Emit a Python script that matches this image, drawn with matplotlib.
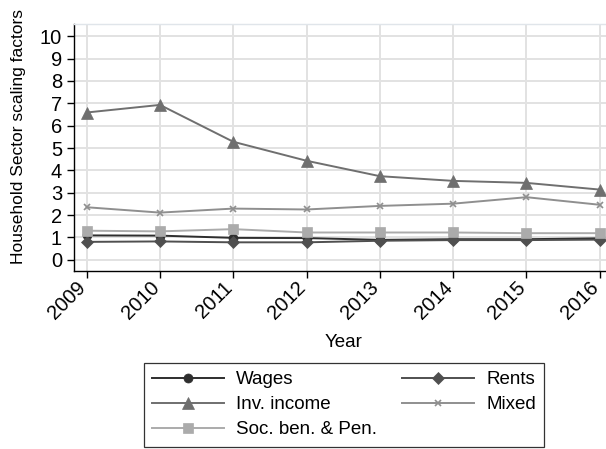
import matplotlib
matplotlib.use("Agg")
import matplotlib.pyplot as plt

plt.rcParams['font.family'] = ['Liberation Sans', 'DejaVu Sans']

years = [2009, 2010, 2011, 2012, 2013, 2014, 2015, 2016]
wages = [1.09, 1.08, 0.98, 0.97, 0.89, 0.92, 0.92, 0.96]
rents = [0.80, 0.82, 0.78, 0.78, 0.85, 0.88, 0.88, 0.90]
inv_income = [6.59, 6.93, 5.28, 4.43, 3.74, 3.53, 3.44, 3.14]
mixed = [2.35, 2.11, 2.29, 2.25, 2.41, 2.51, 2.80, 2.46]
soc_ben = [1.30, 1.27, 1.37, 1.22, 1.22, 1.22, 1.19, 1.19]

y_ticks = list(range(0, 11))

fig = plt.figure(figsize=(6.06, 4.49), dpi=100)
ax = fig.add_axes([0.1221, 0.3971, 0.8886, 0.5494])

series = [
    ("Wages", wages, "#2e2e2e", "o", 6.5),
    ("Rents", rents, "#4f4f4f", "D", 6.5),
    ("Inv. income", inv_income, "#6f6f6f", "^", 8.5),
    ("Mixed", mixed, "#8f8f8f", "x", 4.5),
    ("Soc. ben. & Pen.", soc_ben, "#ababab", "s", 7.5),
]
lines = {}
for label, vals, color, marker, ms in series:
    ln, = ax.plot(years, vals, color=color, lw=1.4, marker=marker, markersize=ms,
                  markeredgewidth=1.2 if marker == "x" else 0.5,
                  markeredgecolor=color, markerfacecolor=color, label=label,
                  clip_on=False, zorder=3)
    lines[label] = ln

ax.set_xlim(2008.827, 2016.173)
ax.set_ylim(-0.49, 10.55)
ax.set_xticks(years)
ax.set_xticklabels([str(y) for y in years], rotation=45, ha='right',
                   va='baseline', rotation_mode='anchor', fontsize=14.5)
ax.set_yticks(y_ticks)
ax.set_yticklabels([str(v) for v in y_ticks], fontsize=14.5)
ax.tick_params(axis='both', direction='out', length=5, width=1, color='black')
ax.tick_params(axis='y', pad=3.6)
ax.tick_params(axis='x', pad=8)

ax.grid(True, color='#e2e2e2', lw=1.4, zorder=0)
ax.set_axisbelow(True)

for side in ('left', 'bottom'):
    ax.spines[side].set_color('black')
    ax.spines[side].set_linewidth(1.0)
ax.spines['top'].set_color('#e0e5ea')
ax.spines['top'].set_linewidth(1.0)
ax.spines['right'].set_visible(False)

ax.set_xlabel("Year", fontsize=13.5)
ax.xaxis.set_label_coords(0.5, -0.2586)
ax.set_ylabel("Household Sector scaling factors", fontsize=12.5)
ax.yaxis.set_label_coords(-0.09, 0.544)

order = ["Wages", "Inv. income", "Soc. ben. & Pen.", "Rents", "Mixed"]
leg = ax.legend([lines[k] for k in order], order,
                loc='upper center', bbox_to_anchor=(0.5677, 0.1922),
                bbox_transform=fig.transFigure, ncol=2, fontsize=13.5,
                frameon=True, fancybox=False, edgecolor='black',
                handlelength=3.85, handletextpad=0.63,
                columnspacing=1.35, labelspacing=0.42, borderpad=0.45,
                borderaxespad=0)
leg.get_frame().set_linewidth(0.9)

fig.savefig("out.png", dpi=100)
